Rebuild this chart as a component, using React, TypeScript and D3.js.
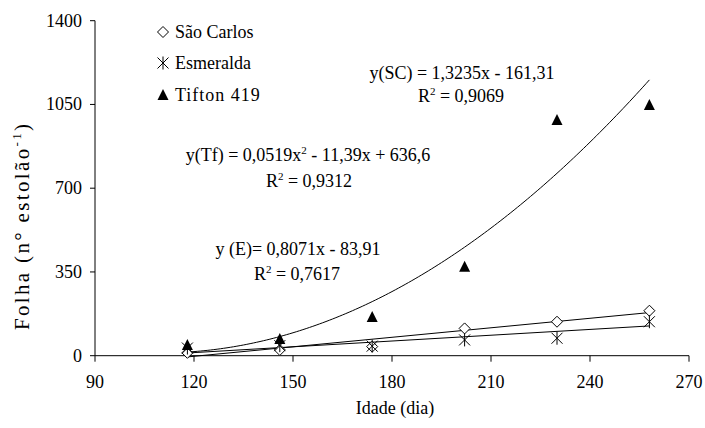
import React from 'react';
import * as d3 from 'd3';

// ages (days) and leaf counts per stolon
const dias = [118, 146, 174, 202, 230, 258];
const saoCarlos = [12, 24, 38, 114, 142, 188];
const esmeralda = [32, 42, 40, 66, 73, 142];
const tifton = [45, 70, 162, 372, 985, 1048];

const xTicks = [90, 120, 150, 180, 210, 240, 270];
const yTicks = [0, 350, 700, 1050, 1400];

// trendline coefficients
const scLine = { a: 1.3235, b: -161.31 };
const eLine = { a: 0.8071, b: -83.91 };
const tfCurve = { a: 0.0519, b: -11.39, c: 636.6 };

const width = 705;
const height = 428;
const font = '"Liberation Serif", "Times New Roman", serif';

const x = d3.scaleLinear().domain([90, 270]).range([95, 689]);
const y = d3.scaleLinear().domain([0, 1400]).range([355.7, 20.7]);

const line = d3.line<[number, number]>().x(d => x(d[0])).y(d => y(d[1]));

const Diamond = ({ cx, cy }: { cx: number; cy: number }) => (
  <path d={`M${cx},${cy - 5.5}L${cx + 5.5},${cy}L${cx},${cy + 5.5}L${cx - 5.5},${cy}Z`} fill="#fff" stroke="#000" strokeWidth={1} />
);

const Star = ({ cx, cy }: { cx: number; cy: number }) => (
  <path d={`M${cx - 5.5},${cy - 5.5}L${cx + 5.5},${cy + 5.5}M${cx + 5.5},${cy - 5.5}L${cx - 5.5},${cy + 5.5}M${cx},${cy - 6.5}L${cx},${cy + 6.5}`} stroke="#000" strokeWidth={1} fill="none" />
);

const Triangle = ({ cx, cy }: { cx: number; cy: number }) => (
  <path d={`M${cx},${cy - 6}L${cx + 5.5},${cy + 5}L${cx - 5.5},${cy + 5}Z`} fill="#000" />
);

const R2 = ({ cx, by, val }: { cx: number; by: number; val: string }) => (
  <text x={cx} y={by} textAnchor="middle">
    R<tspan fontSize={11} dy={-7}>2</tspan><tspan dy={7}>{` = ${val}`}</tspan>
  </text>
);

export default function App() {
  const x0 = dias[0], x1 = dias[dias.length - 1];
  const scPts: [number, number][] = [x0, x1].map(d => [d, scLine.a * d + scLine.b]);
  const ePts: [number, number][] = [x0, x1].map(d => [d, eLine.a * d + eLine.b]);
  const tfPts: [number, number][] = d3.range(x0, x1 + 0.01, 1).map(d => [d, tfCurve.a * d * d + tfCurve.b * d + tfCurve.c]);

  return (
    <svg width={width} height={height} style={{ position: 'absolute', left: 0, top: 0, background: '#fff' }}
      fontFamily={font} fontSize={18} fill="#000">
      {/* axes */}
      <line x1={95} x2={95} y1={y(1400)} y2={y(0)} stroke="#000" />
      <line x1={95} x2={x(270)} y1={y(0)} y2={y(0)} stroke="#000" />
      {yTicks.map(t => (
        <g key={'y' + t}>
          <line x1={90} x2={95} y1={y(t)} y2={y(t)} stroke="#000" />
          <text x={82} y={y(t) + 6} textAnchor="end">{t}</text>
        </g>
      ))}
      {xTicks.map(t => (
        <g key={'x' + t}>
          <line x1={x(t)} x2={x(t)} y1={y(0)} y2={y(0) + 6} stroke="#000" />
          <text x={x(t)} y={388} textAnchor="middle">{t}</text>
        </g>
      ))}
      <text x={395} y={414} textAnchor="middle">Idade (dia)</text>
      <text transform="translate(29,227) rotate(-90)" textAnchor="middle" fontSize={21} textLength={206}>
        Folha (n° estolão<tspan fontSize={13} dy={-8}>-1</tspan><tspan dy={8}>)</tspan>
      </text>

      {/* trendlines */}
      <path d={line(scPts) || ''} fill="none" stroke="#000" strokeWidth={1} />
      <path d={line(ePts) || ''} fill="none" stroke="#000" strokeWidth={1} />
      <path d={line(tfPts) || ''} fill="none" stroke="#000" strokeWidth={1} />

      {/* points */}
      {dias.map((d, i) => <Diamond key={'sc' + i} cx={x(d)} cy={y(saoCarlos[i])} />)}
      {dias.map((d, i) => <Star key={'e' + i} cx={x(d)} cy={y(esmeralda[i])} />)}
      {dias.map((d, i) => <Triangle key={'t' + i} cx={x(d)} cy={y(tifton[i])} />)}

      {/* legend */}
      <Diamond cx={163} cy={32} />
      <text x={175} y={38}>São Carlos</text>
      <Star cx={163} cy={63} />
      <text x={175} y={69}>Esmeralda</text>
      <Triangle cx={163} cy={95} />
      <text x={175} y={101} letterSpacing={1}>Tifton 419</text>

      {/* equations */}
      <text x={462} y={79} textAnchor="middle">y(SC) = 1,3235x - 161,31</text>
      <R2 cx={461} by={102} val="0,9069" />
      <text x={308} y={161} textAnchor="middle">
        y(Tf) = 0,0519x<tspan fontSize={11} dy={-7}>2</tspan><tspan dy={7}> - 11,39x + 636,6</tspan>
      </text>
      <R2 cx={309} by={187} val="0,9312" />
      <text x={298} y={255} textAnchor="middle">y (E)= 0,8071x - 83,91</text>
      <R2 cx={297} by={280} val="0,7617" />
    </svg>
  );
}
